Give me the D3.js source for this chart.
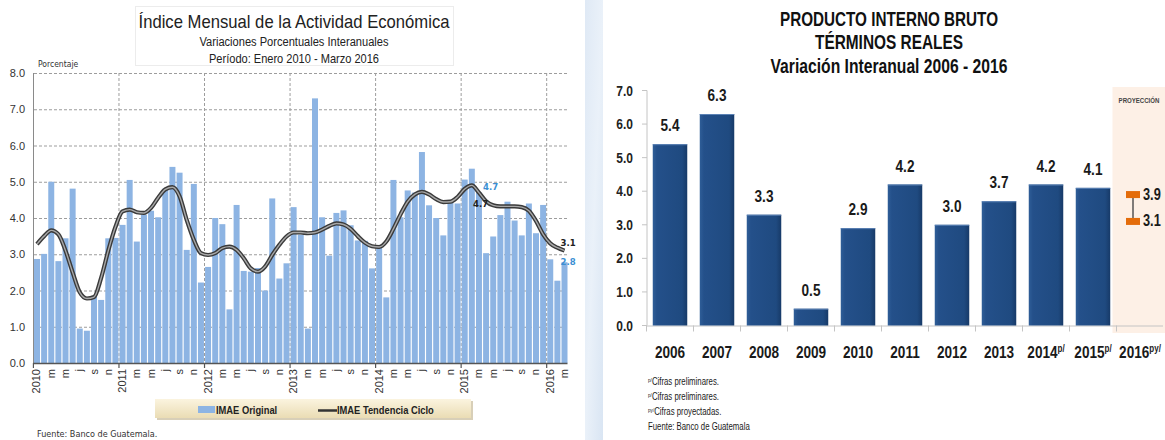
<!DOCTYPE html>
<html>
<head>
<meta charset="utf-8">
<script src="https://cdn.jsdelivr.net/npm/d3@7"></script>
<style>
  body { margin: 0; background: #fff; }
  svg { display: block; }
</style>
</head>
<body>
<div id="chart"></div>
<script>
// ---- Datos IMAE (enero 2010 - marzo 2016) ----
const imaeYears = ["2010", "2011", "2012", "2013", "2014", "2015", "2016"];
const monthLetters = ["", "", "m", "", "m", "", "j", "", "s", "", "n", ""];
const imaeOriginal = [
  2.87, 3.01, 5.00, 2.81, 3.44, 4.81, 0.95, 0.89, 1.85, 1.74, 3.44, 3.45,
  3.81, 5.05, 3.35, 4.09, 4.20, 4.02, 4.81, 5.41, 5.25, 3.12, 4.94, 2.22,
  2.65, 4.00, 3.83, 1.48, 4.36, 2.54, 2.52, 2.62, 2.00, 4.54, 2.33, 2.75,
  4.30, 3.54, 0.95, 7.30, 4.02, 2.96, 4.14, 4.21, 3.80, 3.38, 3.37, 2.61,
  3.20, 1.81, 5.05, 4.02, 4.76, 4.70, 5.82, 4.35, 4.00, 3.52, 4.46, 4.40,
  5.06, 5.36, 4.70, 3.03, 3.49, 4.08, 4.45, 3.93, 3.52, 4.40, 3.58, 4.36,
  2.86, 2.27, 2.78
];
const imaeTendencia = [
  3.28, 3.50, 3.66, 3.55, 3.10, 2.50, 1.95, 1.78, 1.82, 2.35, 3.10, 3.75,
  4.18, 4.23, 4.16, 4.14, 4.28, 4.56, 4.79, 4.85, 4.60, 3.95, 3.40, 3.03,
  2.98, 3.03, 3.17, 3.21, 3.12, 2.89, 2.61, 2.52, 2.66, 2.98, 3.26, 3.49,
  3.60, 3.60, 3.58, 3.60, 3.68, 3.78, 3.85, 3.82, 3.70, 3.50, 3.32, 3.22,
  3.20, 3.35, 3.70, 4.10, 4.45, 4.65, 4.72, 4.65, 4.52, 4.44, 4.45, 4.58,
  4.80, 4.90, 4.70, 4.46, 4.35, 4.32, 4.32, 4.32, 4.30, 4.20, 3.92, 3.55,
  3.30, 3.18, 3.10
];
const imaeTicks = [0, 1, 2, 3, 4, 5, 6, 7, 8];

// ---- Datos PIB ----
const pibYears = ["2006", "2007", "2008", "2009", "2010", "2011", "2012", "2013", "2014", "2015", "2016"];
const pibSup = ["", "", "", "", "", "", "", "", "p/", "p/", "py/"];
const pibValues = [5.4, 6.3, 3.3, 0.5, 2.9, 4.2, 3.0, 3.7, 4.2, 4.1];
const pibProjection = [3.1, 3.9];
const pibTicks = [0, 1, 2, 3, 4, 5, 6, 7];
const pibNotes = [
  ["p/", "Cifras preliminares."],
  ["p/", "Cifras preliminares."],
  ["py/", "Cifras proyectadas."],
  ["", "Fuente: Banco de Guatemala"]
];

const sans = "'Liberation Sans Narrow','Arial Narrow','Liberation Sans',Arial,sans-serif";
const cond = "'DejaVu Sans Condensed','DejaVu Sans',sans-serif";
const SQ = 0.8; // compresión horizontal para imitar la letra estrecha

const svg = d3.select("#chart").append("svg")
  .attr("width", 1165)
  .attr("height", 440);

const defs = svg.append("defs");

// Degradado de la leyenda
const lg = defs.append("linearGradient").attr("id", "legendGrad")
  .attr("x1", 0).attr("y1", 0).attr("x2", 0).attr("y2", 1);
lg.append("stop").attr("offset", "0%").attr("stop-color", "#fbf4df");
lg.append("stop").attr("offset", "100%").attr("stop-color", "#eadcb4");

// Degradado de las barras del PIB
const bg = defs.append("linearGradient").attr("id", "barGrad")
  .attr("x1", 0).attr("y1", 0).attr("x2", 1).attr("y2", 0);
bg.append("stop").attr("offset", "0%").attr("stop-color", "#2f5e98");
bg.append("stop").attr("offset", "12%").attr("stop-color", "#24508a");
bg.append("stop").attr("offset", "85%").attr("stop-color", "#1f4a80");
bg.append("stop").attr("offset", "100%").attr("stop-color", "#173a68");

// Franja azul entre los dos paneles
const sg = defs.append("linearGradient").attr("id", "stripGrad")
  .attr("x1", 0).attr("y1", 0).attr("x2", 1).attr("y2", 1);
sg.append("stop").attr("offset", "0%").attr("stop-color", "#dfe9f5");
sg.append("stop").attr("offset", "50%").attr("stop-color", "#eaf1f9");
sg.append("stop").attr("offset", "100%").attr("stop-color", "#d9e5f3");
svg.append("rect")
  .attr("x", 585).attr("y", 0).attr("width", 18).attr("height", 440)
  .attr("fill", "url(#stripGrad)");

// =====================================================================
// Panel izquierdo: IMAE
// =====================================================================
const months = imaeOriginal.map((v, i) => ({
  i: i,
  year: imaeYears[Math.floor(i / 12)],
  m: i % 12,
  v: v,
  t: imaeTendencia[i]
}));

const xL = d3.scaleBand()
  .domain(months.map(d => d.i))
  .range([34, 567.5])
  .paddingInner(0.16)
  .paddingOuter(0)
  .align(0);

const yL = d3.scaleLinear().domain([0, 8]).range([363, 73]);
const gapL = xL.step() * 0.16 / 2;
const edge = i => xL(i) - gapL;
const mid = i => xL(i) + xL.bandwidth() / 2;

const left = svg.append("g");

// Caja del título
left.append("rect")
  .attr("x", 135.5).attr("y", 6.5).attr("width", 318).attr("height", 59)
  .attr("fill", "none").attr("stroke", "#ececec");

left.append("text")
  .attr("x", 294).attr("y", 28)
  .attr("text-anchor", "middle")
  .attr("font-family", sans).attr("font-size", 19)
  .attr("fill", "#222")
  .attr("textLength", 311).attr("lengthAdjust", "spacingAndGlyphs")
  .text("Índice Mensual de la Actividad Económica");
left.append("text")
  .attr("x", 294).attr("y", 46)
  .attr("text-anchor", "middle")
  .attr("font-family", sans).attr("font-size", 12)
  .attr("fill", "#222")
  .attr("textLength", 189).attr("lengthAdjust", "spacingAndGlyphs")
  .text("Variaciones Porcentuales Interanuales");
left.append("text")
  .attr("x", 294).attr("y", 63)
  .attr("text-anchor", "middle")
  .attr("font-family", sans).attr("font-size", 13)
  .attr("fill", "#222")
  .attr("textLength", 170).attr("lengthAdjust", "spacingAndGlyphs")
  .text("Período: Enero 2010 - Marzo 2016");

left.append("text")
  .attr("x", 38).attr("y", 67)
  .attr("font-family", cond).attr("font-size", 8.5)
  .attr("fill", "#333")
  .text("Porcentaje");

// Rejilla horizontal
left.selectAll(".hgrid")
  .data(imaeTicks.slice(1))
  .enter().append("line")
  .attr("x1", 34).attr("x2", 567)
  .attr("y1", d => yL(d) + 0.5).attr("y2", d => yL(d) + 0.5)
  .attr("stroke", "#9d9d9d").attr("stroke-dasharray", "3,2");

// Rejilla vertical en los cambios de año
const yearStarts = months.filter(d => d.m === 0 && d.i > 0);
left.selectAll(".vgrid")
  .data(yearStarts)
  .enter().append("line")
  .attr("x1", d => edge(d.i)).attr("x2", d => edge(d.i))
  .attr("y1", yL(8)).attr("y2", yL(0))
  .attr("stroke", "#9d9d9d").attr("stroke-dasharray", "3,2");

// Barras IMAE original
left.selectAll(".bar")
  .data(months)
  .enter().append("rect")
  .attr("x", d => xL(d.i))
  .attr("y", d => yL(d.v))
  .attr("width", xL.bandwidth())
  .attr("height", d => yL(0) - yL(d.v))
  .attr("fill", "#8db4e3");

// Tendencia ciclo
const trendLine = d3.line()
  .x(d => mid(d.i))
  .y(d => yL(d.t))
  .curve(d3.curveMonotoneX);
left.append("path")
  .datum(months)
  .attr("d", trendLine)
  .attr("fill", "none").attr("stroke", "#3a3a3a").attr("stroke-width", 4.2);
left.append("path")
  .datum(months)
  .attr("d", trendLine)
  .attr("fill", "none").attr("stroke", "#a8a8a8").attr("stroke-width", 1.4);

// Ejes
left.append("line")
  .attr("x1", 33.5).attr("x2", 33.5).attr("y1", yL(8)).attr("y2", yL(0))
  .attr("stroke", "#8a8a8a");
left.append("line")
  .attr("x1", 33).attr("x2", 567.5).attr("y1", yL(0) + 0.5).attr("y2", yL(0) + 0.5)
  .attr("stroke", "#555").attr("stroke-width", 1.5);
left.selectAll(".xtick")
  .data(months.filter(d => d.m === 0))
  .enter().append("line")
  .attr("x1", d => edge(d.i)).attr("x2", d => edge(d.i))
  .attr("y1", yL(0)).attr("y2", yL(0) + 5)
  .attr("stroke", "#555").attr("stroke-width", 1.2);

left.selectAll(".ylab")
  .data(imaeTicks)
  .enter().append("text")
  .attr("x", 25).attr("y", d => yL(d) + 4)
  .attr("text-anchor", "end")
  .attr("font-family", sans).attr("font-size", 11)
  .attr("fill", "#333")
  .text(d => d.toFixed(1));

left.selectAll(".xlab")
  .data(months.filter(d => d.m === 0 || monthLetters[d.m] !== ""))
  .enter().append("text")
  .attr("transform", d => `translate(${mid(d.i) + 3.5},369) rotate(-90)`)
  .attr("text-anchor", "end")
  .attr("font-family", sans).attr("font-size", 11)
  .attr("fill", "#333")
  .text(d => d.m === 0 ? d.year : monthLetters[d.m]);

// Etiquetas de marzo 2015 y marzo 2016
const mar15 = months[62];
const mar16 = months[74];
left.append("text")
  .attr("x", xL(mar15.i) + xL.bandwidth() + 1).attr("y", yL(mar15.v) - 3)
  .attr("font-family", cond).attr("font-size", 9.5).attr("font-weight", "bold")
  .attr("fill", "#3b8fd3")
  .text(mar15.v.toFixed(1));
left.append("text")
  .attr("x", mid(mar15.i) - 6).attr("y", yL(mar15.t) + 14)
  .attr("font-family", cond).attr("font-size", 9.5).attr("font-weight", "bold")
  .attr("fill", "#222")
  .text(mar15.t.toFixed(1));
left.append("text")
  .attr("x", mid(mar16.i) - 4).attr("y", yL(mar16.t) - 5)
  .attr("font-family", cond).attr("font-size", 9.5).attr("font-weight", "bold")
  .attr("fill", "#222")
  .text(mar16.t.toFixed(1));
left.append("text")
  .attr("x", mid(mar16.i) - 4).attr("y", yL(mar16.v) + 3)
  .attr("font-family", cond).attr("font-size", 9.5).attr("font-weight", "bold")
  .attr("fill", "#3b8fd3")
  .text(mar16.v.toFixed(1));

// Leyenda
const legend = left.append("g");
legend.append("rect")
  .attr("x", 157).attr("y", 401).attr("width", 316).attr("height", 19)
  .attr("fill", "#d8cfb8");
legend.append("rect")
  .attr("x", 155).attr("y", 399).attr("width", 316).attr("height", 19)
  .attr("fill", "url(#legendGrad)");
legend.append("rect")
  .attr("x", 198).attr("y", 406).attr("width", 17).attr("height", 7)
  .attr("fill", "#8db4e3");
legend.append("text")
  .attr("transform", "translate(216,413.5) scale(0.85,1)")
  .attr("font-family", sans).attr("font-size", 11).attr("font-weight", "bold")
  .attr("fill", "#222")
  .text("IMAE Original");
legend.append("line")
  .attr("x1", 318).attr("x2", 337).attr("y1", 410.5).attr("y2", 410.5)
  .attr("stroke", "#333").attr("stroke-width", 2.5);
legend.append("text")
  .attr("transform", "translate(337,413.5) scale(0.85,1)")
  .attr("font-family", sans).attr("font-size", 11).attr("font-weight", "bold")
  .attr("fill", "#222")
  .text("IMAE Tendencia Ciclo");

left.append("text")
  .attr("x", 37).attr("y", 437)
  .attr("font-family", cond).attr("font-size", 9)
  .attr("fill", "#333")
  .text("Fuente: Banco de Guatemala.");

// =====================================================================
// Panel derecho: PIB
// =====================================================================
const right = svg.append("g");

const xR = d3.scaleBand()
  .domain(pibYears)
  .range([646.5, 1163.5])
  .paddingInner(0.266)
  .paddingOuter(0.133);
const yR = d3.scaleLinear().domain([0, 7]).range([325.5, 90.5]);
const stepR = xR.step();
const bandStart = y => xR(y) - stepR * 0.133;

// Área de proyección
right.append("rect")
  .attr("x", bandStart("2016") - 4).attr("y", 87)
  .attr("width", 1165 - (bandStart("2016") - 4)).attr("height", 246)
  .attr("fill", "#fdf0e6");
right.append("text")
  .attr("transform", "translate(1139,103) scale(0.76,1)")
  .attr("text-anchor", "middle")
  .attr("font-family", sans).attr("font-size", 8).attr("font-weight", "bold")
  .attr("fill", "#444")
  .text("PROYECCIÓN");

// Títulos
const titles = [
  { t: "PRODUCTO INTERNO BRUTO", y: 26, w: 218 },
  { t: "TÉRMINOS REALES", y: 49, w: 148 },
  { t: "Variación Interanual 2006 - 2016", y: 73, w: 237 }
];
right.selectAll(".title")
  .data(titles)
  .enter().append("text")
  .attr("x", 889).attr("y", d => d.y)
  .attr("text-anchor", "middle")
  .attr("font-family", sans).attr("font-size", 21).attr("font-weight", "bold")
  .attr("fill", "#111")
  .attr("textLength", d => d.w).attr("lengthAdjust", "spacingAndGlyphs")
  .text(d => d.t);

// Eje Y
right.append("line")
  .attr("x1", 647).attr("x2", 647).attr("y1", yR(7)).attr("y2", yR(0))
  .attr("stroke", "#c4c4c4");
right.selectAll(".ytick")
  .data(pibTicks)
  .enter().append("line")
  .attr("x1", 642).attr("x2", 647)
  .attr("y1", d => yR(d)).attr("y2", d => yR(d))
  .attr("stroke", "#c4c4c4");
right.selectAll(".ylab")
  .data(pibTicks)
  .enter().append("text")
  .attr("transform", d => `translate(633,${yR(d) + 5}) scale(${SQ},1)`)
  .attr("text-anchor", "end")
  .attr("font-family", sans).attr("font-size", 15).attr("font-weight", "bold")
  .attr("fill", "#222")
  .text(d => d.toFixed(1));

// Eje X
right.append("line")
  .attr("x1", 647).attr("x2", 1163).attr("y1", yR(0) + 0.5).attr("y2", yR(0) + 0.5)
  .attr("stroke", "#c4c4c4");
right.selectAll(".xtick")
  .data(pibYears)
  .enter().append("line")
  .attr("x1", d => bandStart(d)).attr("x2", d => bandStart(d))
  .attr("y1", yR(0)).attr("y2", yR(0) + 6)
  .attr("stroke", "#c4c4c4");

// Barras
const pibData = pibValues.map((v, i) => ({ year: pibYears[i], v: v }));
right.selectAll(".pib")
  .data(pibData)
  .enter().append("rect")
  .attr("x", d => xR(d.year))
  .attr("y", d => yR(d.v))
  .attr("width", xR.bandwidth())
  .attr("height", d => yR(0) - yR(d.v))
  .attr("fill", "url(#barGrad)");
right.selectAll(".pibTop")
  .data(pibData)
  .enter().append("line")
  .attr("x1", d => xR(d.year)).attr("x2", d => xR(d.year) + xR.bandwidth())
  .attr("y1", d => yR(d.v) + 0.5).attr("y2", d => yR(d.v) + 0.5)
  .attr("stroke", "#5b82b5").attr("stroke-width", 1);

right.selectAll(".pibLab")
  .data(pibData)
  .enter().append("text")
  .attr("transform", d => `translate(${xR(d.year) + xR.bandwidth() / 2},${yR(d.v) - 13}) scale(${SQ},1)`)
  .attr("text-anchor", "middle")
  .attr("font-family", sans).attr("font-size", 17).attr("font-weight", "bold")
  .attr("fill", "#1a1a1a")
  .text(d => d.v.toFixed(1));

// Etiquetas del eje X con superíndices
const xlabs = right.selectAll(".xlab")
  .data(pibYears)
  .enter().append("text")
  .attr("transform", d => `translate(${xR(d) + xR.bandwidth() / 2},358) scale(${SQ},1)`)
  .attr("text-anchor", "middle")
  .attr("font-family", sans).attr("font-size", 17).attr("font-weight", "bold")
  .attr("fill", "#1a1a1a");
xlabs.append("tspan").text(d => d);
xlabs.append("tspan")
  .attr("dy", -6).attr("font-size", 10)
  .text((d, i) => pibSup[i]);

// Proyección 2016
const px = xR("2016") + xR.bandwidth() / 2 - 7;
right.append("line")
  .attr("x1", px).attr("x2", px)
  .attr("y1", yR(pibProjection[1])).attr("y2", yR(pibProjection[0]))
  .attr("stroke", "#555").attr("stroke-width", 1.5);
right.selectAll(".proj")
  .data(pibProjection)
  .enter().append("rect")
  .attr("x", px - 7).attr("y", d => yR(d) - 3.5)
  .attr("width", 14).attr("height", 7)
  .attr("fill", "#e46c0a");
right.selectAll(".projLab")
  .data(pibProjection)
  .enter().append("text")
  .attr("transform", d => `translate(${px + 10},${yR(d) + 5}) scale(${SQ},1)`)
  .attr("font-family", sans).attr("font-size", 16).attr("font-weight", "bold")
  .attr("fill", "#1a1a1a")
  .text(d => d.toFixed(1));

// Notas
const notes = right.selectAll(".note")
  .data(pibNotes)
  .enter().append("text")
  .attr("transform", (d, i) => `translate(648,${385 + i * 15}) scale(0.78,1)`)
  .attr("font-family", sans).attr("font-size", 10)
  .attr("fill", "#1a1a1a");
notes.append("tspan")
  .attr("font-size", 6).attr("dy", -3)
  .text(d => d[0]);
notes.append("tspan")
  .attr("dy", d => d[0] ? 3 : 0)
  .text(d => d[1]);
</script>
</body>
</html>
